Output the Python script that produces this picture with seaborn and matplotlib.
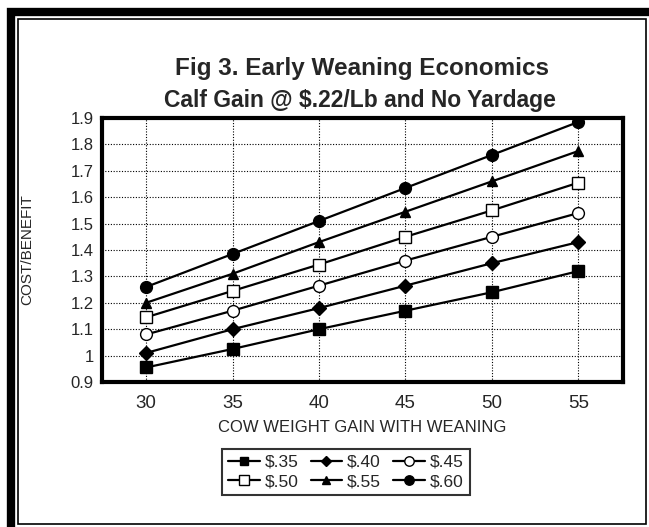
import numpy as np
import pandas as pd
import seaborn as sns
from matplotlib import pyplot as plt
from matplotlib.patches import Rectangle

# data
weight_gain = [30, 35, 40, 45, 50, 55]
price_labels = ["$.35", "$.40", "$.45", "$.50", "$.55", "$.60"]
cb_35 = [0.955, 1.025, 1.10, 1.17, 1.24, 1.32]
cb_40 = [1.01, 1.10, 1.18, 1.265, 1.35, 1.43]
cb_45 = [1.08, 1.17, 1.265, 1.36, 1.45, 1.54]
cb_50 = [1.145, 1.245, 1.345, 1.45, 1.55, 1.655]
cb_55 = [1.20, 1.31, 1.43, 1.545, 1.66, 1.775]
cb_60 = [1.26, 1.385, 1.51, 1.635, 1.76, 1.885]
y_ticks = [0.9, 1.0, 1.1, 1.2, 1.3, 1.4, 1.5, 1.6, 1.7, 1.8, 1.9]

series = [cb_35, cb_40, cb_45, cb_50, cb_55, cb_60]
rows = []
for label, vals in zip(price_labels, series):
    for x, y in zip(weight_gain, vals):
        rows.append({"gain": x, "cb": y, "price": label})
df = pd.DataFrame(rows)

sns.set_style("white")
plt.rcParams['font.family'] = ['Liberation Sans', 'DejaVu Sans']

W, H = 649, 527
fig = plt.figure(figsize=(W / 100, H / 100), dpi=100)


def fx(px):
    return px / W


def fy(py):
    return 1 - py / H


ax = fig.add_axes([fx(102), fy(382), fx(622.5) - fx(102), fy(118) - fy(382)])

# marker, filled?, size
styles = {
    "$.35": ("s", True, 8),
    "$.40": ("D", True, 7),
    "$.45": ("o", False, 8.5),
    "$.50": ("s", False, 8.5),
    "$.55": ("^", True, 7),
    "$.60": ("o", True, 8.5),
}

for label in price_labels:
    marker, filled, ms = styles[label]
    sub = df[df["price"] == label]
    sns.lineplot(data=sub, x="gain", y="cb", ax=ax, color="black", linewidth=1.6,
                 marker=marker, markersize=ms, markeredgecolor="black",
                 markeredgewidth=1.0,
                 markerfacecolor="black" if filled else "white",
                 label=label.replace("$", r"\$"), legend=False)

ax.set_xlim(27.45, 57.55)
ax.set_ylim(0.9, 1.9)
ax.set_xticks(weight_gain)
ax.set_yticks(y_ticks)
ax.set_yticklabels([f"{v:g}" for v in y_ticks])
ax.tick_params(axis="both", length=0)
ax.tick_params(axis="x", labelsize=13.5, pad=9)
ax.tick_params(axis="y", labelsize=12, pad=6)
ax.grid(True, linestyle=(0, (1, 1.5)), color="black", linewidth=0.8)
for sp in ax.spines.values():
    sp.set_visible(True)
    sp.set_color("black")
    sp.set_linewidth(3)
ax.set_xlabel("")
ax.set_ylabel("")

fig.text(fx(362), fy(68), "Fig 3. Early Weaning Economics", ha="center", va="center",
         fontsize=17.5, fontweight="bold")
fig.text(fx(360), fy(101), r"Calf Gain @ \$.22/Lb and No Yardage", ha="center", va="center",
         fontsize=16.5, fontweight="bold")
fig.text(fx(362), fy(427), "COW WEIGHT GAIN WITH WEANING", ha="center", va="center",
         fontsize=12)
fig.text(fx(27), fy(250), "COST/BENEFIT", ha="center", va="center", rotation=90,
         fontsize=11)

# legend filled row-wise: reorder for column-major placement
handles, labels = ax.get_legend_handles_labels()
order = [0, 3, 1, 4, 2, 5]
leg = ax.legend([handles[i] for i in order], [labels[i] for i in order], ncol=3,
                loc="center", bbox_to_anchor=(fx(346), fy(472)),
                bbox_transform=fig.transFigure, fontsize=12.5, frameon=True,
                fancybox=False, edgecolor="black", handlelength=1.8,
                handletextpad=0.3, columnspacing=0.7, labelspacing=0.25,
                borderpad=0.35, markerscale=0.8)
leg.get_frame().set_linewidth(1.5)

# outer frames of the scanned figure
fig.add_artist(Rectangle((fx(11), fy(534)), fx(652) - fx(11), fy(12) - fy(534),
                         transform=fig.transFigure, fill=False, edgecolor="black",
                         linewidth=6))
fig.add_artist(Rectangle((fx(18), fy(524)), fx(646) - fx(18), fy(19) - fy(524),
                         transform=fig.transFigure, fill=False, edgecolor="black",
                         linewidth=1.2))

fig.savefig("out.png", dpi=100)
